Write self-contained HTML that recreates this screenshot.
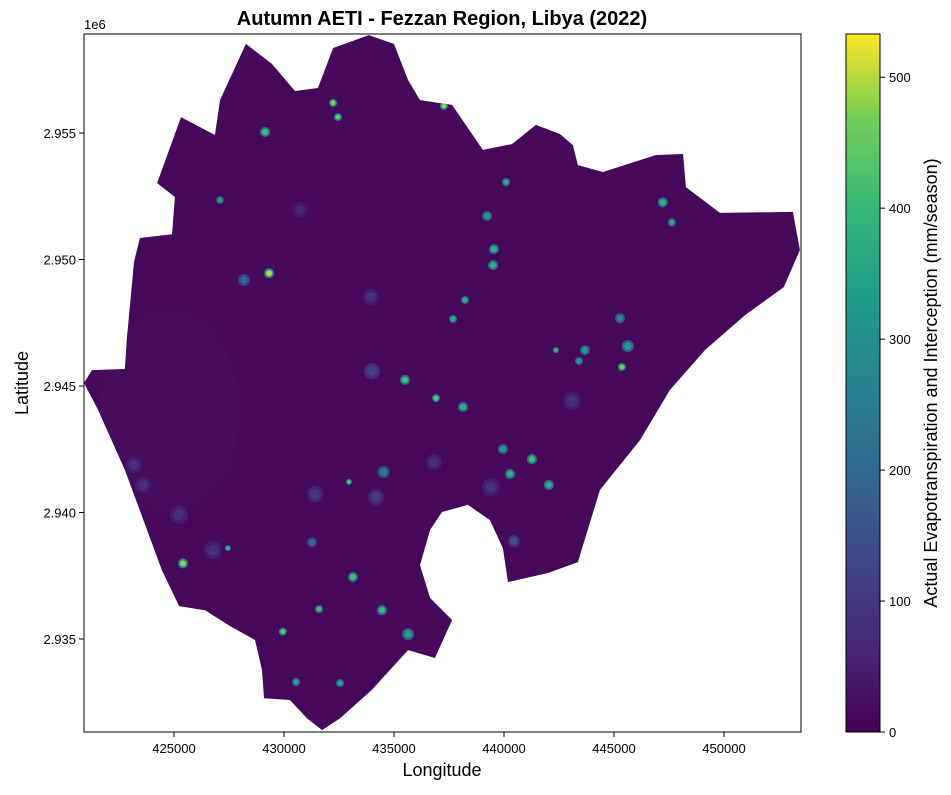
<!DOCTYPE html>
<html><head><meta charset="utf-8">
<style>
body{margin:0;background:#fff;}
svg text{font-family:"Liberation Sans",sans-serif;}
</style></head>
<body>
<svg id="chart" width="951" height="790" viewBox="0 0 951 790" xmlns="http://www.w3.org/2000/svg">
<text x="442" y="25" font-size="20" font-weight="bold" text-anchor="middle">Autumn AETI - Fezzan Region, Libya (2022)</text>
<defs><clipPath id="regclip"><polygon id="clippoly" points=""/></clipPath>
<linearGradient id="vir" x1="0" y1="1" x2="0" y2="0">
<stop offset="0" stop-color="#440154"/><stop offset="0.125" stop-color="#482878"/><stop offset="0.25" stop-color="#3e4989"/><stop offset="0.375" stop-color="#31688e"/><stop offset="0.5" stop-color="#26828e"/><stop offset="0.625" stop-color="#1f9e89"/><stop offset="0.75" stop-color="#35b779"/><stop offset="0.875" stop-color="#6ece58"/><stop offset="1" stop-color="#fde725"/></linearGradient></defs>
<g id="plot"></g>
<rect x="84" y="34" width="717" height="698" fill="none" stroke="#000" stroke-width="1"/>
<g id="xaxis"></g>
<g id="yaxis"></g>
<text x="84" y="29" font-size="13">1e6</text>
<text x="442" y="776" font-size="18" text-anchor="middle">Longitude</text>
<text x="0" y="0" font-size="18" text-anchor="middle" transform="translate(28,383) rotate(-90)">Latitude</text>
<rect x="846" y="34" width="34" height="698" fill="url(#vir)" stroke="#000" stroke-width="1"/>
<g id="cbaxis"></g>
<text x="0" y="0" font-size="18" text-anchor="middle" transform="translate(937,383) rotate(-90)">Actual Evapotranspiration and Interception (mm/season)</text>
</svg>
<script>
const xTicks=[425000,430000,435000,440000,445000,450000];
const yTicks=[2935000,2940000,2945000,2950000,2955000];
const yTickLabels=["2.935","2.940","2.945","2.950","2.955"];
const cbTicks=[0,100,200,300,400,500];
const cbMax=533;
const boundaryLon=[420.91,421.27,422.77,422.86,423.18,423.45,424.91,425.04,424.23,425.32,426.86,427.09,428.27,429.45,430.50,431.54,432.23,433.86,435.00,435.64,436.18,437.64,439.04,440.36,441.45,442.54,443.13,443.36,444.50,446.91,448.14,448.27,449.82,453.13,453.45,452.72,450.95,449.13,447.54,446.18,444.36,443.36,442.00,440.18,439.95,439.36,438.36,437.18,436.64,436.18,436.64,437.64,436.86,435.64,433.98,432.55,431.73,431.04,430.27,429.09,429.00,428.68,427.55,426.41,425.23,424.45,422.77,421.55];
const boundaryLat=[2945.12,2945.63,2945.67,2946.89,2949.90,2950.85,2951.00,2952.47,2953.02,2955.63,2954.92,2956.30,2958.52,2957.73,2956.66,2956.78,2958.36,2958.87,2958.52,2957.09,2956.30,2956.11,2954.33,2954.56,2955.32,2954.96,2954.52,2953.73,2953.46,2954.13,2954.17,2952.86,2951.84,2951.88,2950.37,2948.91,2947.80,2946.42,2944.84,2942.86,2940.89,2938.04,2937.61,2937.25,2938.59,2939.70,2940.30,2940.02,2939.31,2937.92,2936.62,2935.75,2934.25,2934.56,2932.98,2931.87,2931.40,2931.87,2932.59,2932.66,2933.77,2934.96,2935.51,2936.14,2936.30,2937.72,2941.68,2944.05];
const fieldLon=[429.14,432.23,432.45,437.27,429.32,428.18,440.09,439.23,439.54,447.22,447.63,435.50,436.91,438.14,439.95,440.27,441.27,442.04,445.36,443.68,442.36,443.41,445.63,445.27,425.41,427.45,426.77,425.23,423.59,423.18,433.13,434.45,435.64,431.59,429.95,430.55,432.55,434.52,434.18,431.41,431.27,436.82,439.41,443.09,440.45,437.68,438.23,439.50,427.09,432.95,434.00,433.95,430.73];
const fieldLat=[2955.04,2956.19,2955.63,2956.07,2949.46,2949.19,2953.06,2951.72,2950.41,2952.26,2951.47,2945.24,2944.52,2944.17,2942.51,2941.52,2942.11,2941.09,2945.75,2946.42,2946.42,2945.99,2946.58,2947.68,2937.99,2938.59,2938.51,2939.90,2941.09,2941.88,2937.45,2936.14,2935.19,2936.18,2935.29,2933.30,2933.26,2941.60,2940.61,2940.73,2938.83,2941.99,2941.01,2944.40,2938.87,2947.65,2948.40,2949.78,2952.35,2941.21,2945.59,2948.52,2951.96];
const fieldValue=[420,480,460,480,500,200,380,330,380,380,360,420,450,380,320,380,420,380,470,330,400,330,330,280,480,400,80,80,80,80,420,400,330,420,450,360,360,250,100,100,200,80,80,80,150,380,380,380,330,450,120,80,60];
const fieldRadius=[5,4,4,4,5,6,4,5,5,5,4,5,4,5,5,5,5,5,4,5,3,4,6,5,5,3,9,9,8,8,5,5,6,4,4,4,4,6,8,8,5,8,9,9,6,4,4,5,4,3,8,8,8];
const backgroundValue=12;

const x=v=>84+(v-420909)*0.022;
const y=v=>732-(v-2931324)*(698/27589);
const cy=v=>732-v/cbMax*698;
const stops=[[0,[68,1,84]],[.125,[72,40,120]],[.25,[62,73,137]],[.375,[49,104,142]],[.5,[38,130,142]],[.625,[31,158,137]],[.75,[53,183,121]],[.875,[110,206,88]],[1,[253,231,37]]];
function color(v){let t=Math.max(0,Math.min(1,v/cbMax));for(let i=1;i<stops.length;i++){if(t<=stops[i][0]){const a=stops[i-1],b=stops[i],f=(t-a[0])/(b[0]-a[0]);return 'rgb('+a[1].map((c,k)=>Math.round(c+(b[1][k]-c)*f)).join(',')+')';}}return 'rgb(253,231,37)';}
const NS='http://www.w3.org/2000/svg';
function mk(tag,attrs,parent){const e=document.createElementNS(NS,tag);for(const k in attrs)e.setAttribute(k,attrs[k]);parent.appendChild(e);return e;}
const plot=document.getElementById('plot');
const pts=boundaryLon.map((l,i)=>x(l*1000).toFixed(1)+','+y(boundaryLat[i]*1000).toFixed(1)).join(' ');
document.getElementById('clippoly').setAttribute('points',pts);
const poly=mk('polygon',{points:pts,fill:color(backgroundValue)},plot);


const inner=mk('g',{'clip-path':'url(#regclip)'},plot);


const blob=mk('ellipse',{cx:x(424800),cy:y(2944000),rx:70,ry:100,fill:color(35),opacity:0.35},inner);


fieldLon.forEach((l,i)=>{
 const g=mk('g',{},inner);
 
 
 const px=x(l*1000),py=y(fieldLat[i]*1000),r=fieldRadius[i],v=fieldValue[i];
 mk('circle',{cx:px,cy:py,r:r,fill:color(v*0.55)},g);
 mk('circle',{cx:px,cy:py,r:r*0.6,fill:color(v)},g);
});
const xa=document.getElementById('xaxis');
xTicks.forEach(t=>{const px=x(t);
 const l=mk('line',{x1:px,x2:px,y1:732,y2:737,stroke:'#000'},xa);
 
 
 const tx=mk('text',{x:px,y:753,'font-size':13,'text-anchor':'middle'},xa);tx.textContent=t;
 
 
});
const ya=document.getElementById('yaxis');
yTicks.forEach((t,i)=>{const py=y(t);
 const l=mk('line',{x1:79,x2:84,y1:py,y2:py,stroke:'#000'},ya);
 
 
 const tx=mk('text',{x:76,y:py+5,'font-size':13,'text-anchor':'end'},ya);tx.textContent=yTickLabels[i];
 
 
});
const ca=document.getElementById('cbaxis');
cbTicks.forEach(t=>{const py=cy(t);
 const l=mk('line',{x1:880,x2:885,y1:py,y2:py,stroke:'#000'},ca);
 
 
 const tx=mk('text',{x:889,y:py+5,'font-size':13},ca);tx.textContent=t;
 
 
});
</script>
</body></html>
